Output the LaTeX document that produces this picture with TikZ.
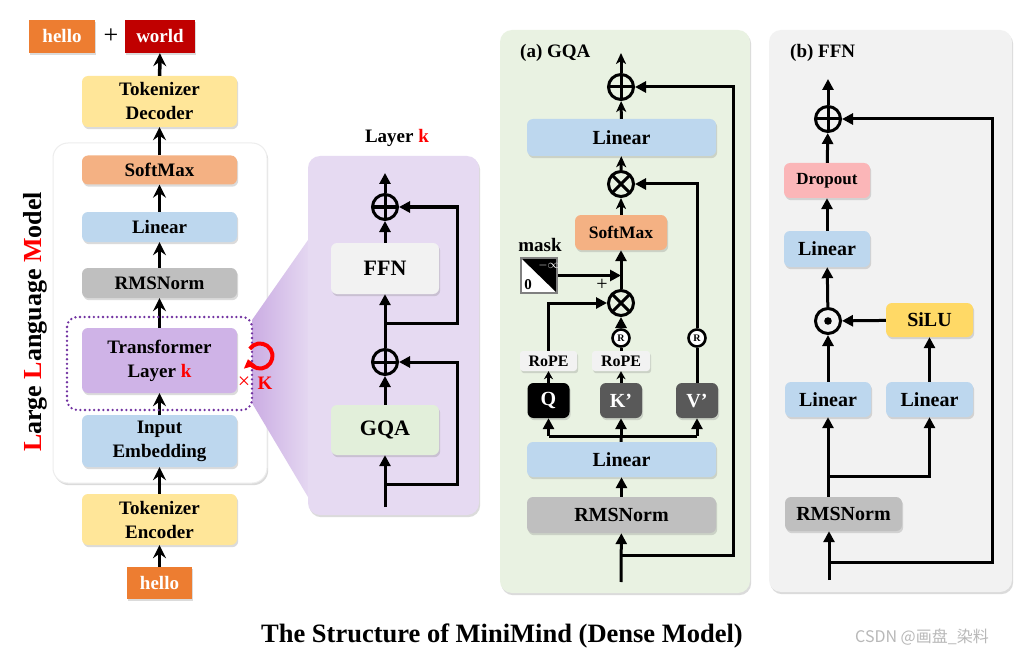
\documentclass[tikz,border=0pt]{standalone}
\usepackage{fontspec}
\setmainfont{Liberation Serif}
\newfontfamily\cjkfont{Noto Sans CJK SC}
\usetikzlibrary{arrows.meta,shadows,calc}
\definecolor{corange}{HTML}{ED7D31}
\definecolor{cworld}{HTML}{C00000}
\definecolor{cyel}{HTML}{FFE699}
\definecolor{csoft}{HTML}{F4B183}
\definecolor{cblue}{HTML}{BDD7EE}
\definecolor{cgrey}{HTML}{BFBFBF}
\definecolor{ctl}{HTML}{CFB3E7}
\definecolor{cdot}{HTML}{7030A0}
\definecolor{clav}{HTML}{E6DAF2}
\definecolor{cffn}{HTML}{F2F2F2}
\definecolor{cgqa}{HTML}{E2EFDA}
\definecolor{cgp}{HTML}{E9F2E2}
\definecolor{cfp}{HTML}{F2F2F2}
\definecolor{cdrop}{HTML}{FBB6B8}
\definecolor{csilu}{HTML}{FFD966}
\definecolor{cdk}{HTML}{595959}
\definecolor{ctrapL}{HTML}{CBADE3}
\definecolor{ctrapR}{HTML}{E4D7F1}
\tikzset{
 fs/.style={font=\fontsize{#1}{24}\selectfont\bfseries},
 sh/.style={drop shadow={shadow xshift=1.2pt,shadow yshift=-2.2pt,opacity=0.28}},
 blk/.style={rounded corners=6pt, inner sep=0pt, align=center, sh, text=black},
 tok/.style={inner sep=0pt, sh, text=white, fs=19},
 la/.style={line width=3.5pt, -{Stealth[length=13pt,width=13pt,inset=4.5pt]}},
 pl/.style={line width=3pt},
 pa/.style={pl, -{Triangle[length=11pt,width=11pt]}},
 sa/.style={pl, -{Stealth[length=11pt,width=10pt,inset=3pt]}},
 opl/.style={circle, draw, line width=3pt, minimum size=25pt, inner sep=0pt,
   path picture={\draw[line width=3pt] (path picture bounding box.north) -- (path picture bounding box.south) (path picture bounding box.west) -- (path picture bounding box.east);}},
 otm/.style={circle, draw, line width=3pt, minimum size=25pt, inner sep=0pt,
   path picture={\draw[line width=3pt] (path picture bounding box.north west) -- (path picture bounding box.south east) (path picture bounding box.south west) -- (path picture bounding box.north east);}},
 odt/.style={circle, draw, line width=3pt, minimum size=25pt, inner sep=0pt,
   path picture={\fill (path picture bounding box.center) circle[radius=3.8pt];}},
 rc/.style={circle, draw, line width=2.6pt, fill=white, minimum size=17pt, inner sep=0pt, font=\fontsize{10}{10}\selectfont\bfseries},
}
\begin{document}
\begin{tikzpicture}[x=1pt,y=-1pt]
\useasboundingbox (0,0) rectangle (1018,658);
\fill[white] (0,0) rectangle (1018,658);

% ---------------- left column ----------------
\path[fill=white, draw=black!7, line width=1pt, rounded corners=15pt, sh] (53,143) rectangle (267,483);
\node[rotate=90, fs=26] (llm) at (35,322) {{\color{red}L}arge {\color{red}L}anguage {\color{red}M}odel};

\node[tok, fill=corange, minimum width=66pt, minimum height=33pt] (h1) at (62,36.5) {hello};
\node[font=\fontsize{26}{26}\selectfont] (plus) at (111,36) {+};
\node[tok, fill=cworld, minimum width=70pt, minimum height=33pt] (world) at (160,36.5) {world};

\node[blk, fill=cyel, minimum width=155pt, minimum height=51pt, fs=19] (td) at (159.5,101.5) {Tokenizer\\Decoder};
\node[blk, fill=csoft, minimum width=155pt, minimum height=29pt, fs=19] (sm) at (159.5,170) {SoftMax};
\node[blk, fill=cblue, minimum width=155pt, minimum height=30pt, fs=19] (lin) at (159.5,227) {Linear};
\node[blk, fill=cgrey, minimum width=155pt, minimum height=30pt, fs=19] (rms) at (159.5,283) {RMSNorm};
\node[blk, fill=ctl, minimum width=155pt, minimum height=65pt, fs=19] (tl) at (159.5,360.5) {Transformer\\Layer {\color{red}k}};
\node[blk, fill=cblue, minimum width=155pt, minimum height=52pt, fs=19] (ie) at (159.5,441) {Input\\Embedding};
\node[blk, fill=cyel, minimum width=155pt, minimum height=51pt, fs=19] (te) at (159.5,519.5) {Tokenizer\\Encoder};
\node[tok, fill=corange, minimum width=65pt, minimum height=32pt] (h2) at (159.5,583) {hello};

\draw[la] (h2) -- (te);
\draw[la] (te) -- (ie);
\draw[la] (ie) -- (tl);
\draw[la] (tl) -- (rms);
\draw[la] (rms) -- (lin);
\draw[la] (lin) -- (sm);
\draw[la] (sm) -- (td);
\draw[la] (td) -- (world);

% trapezoid
\shade[left color=ctrapL, right color=ctrapR] (252,320) -- (308,240) -- (308,497) -- (252,403) -- cycle;
\draw[cdot, line width=2.6pt, dash pattern=on 0pt off 4.6pt, line cap=round, rounded corners=10pt] (67,317) rectangle (252,410);

\draw[red, line width=4pt, -{Triangle[length=8pt,width=12pt]}] (260,356) ++(-145:12.5) arc[start angle=-145, end angle=165, radius=12.5];
\node[text=red, font=\fontsize{22}{22}\selectfont] (xk1) at (244,383) {×};
\node[text=red, fs=19] (xk2) at (265,383) {K};

% ---------------- layer k panel ----------------
\path[fill=clav, rounded corners=12pt, sh] (308,156) rectangle (479,515);
\node[fs=19] (lt) at (397,138) {Layer {\color{red}k}};
\node[blk, fill=cffn, minimum width=108pt, minimum height=51pt, fs=22] (ffn) at (385,268.5) {FFN};
\node[blk, fill=cgqa, minimum width=108pt, minimum height=50pt, fs=22] (gqa) at (385,430) {GQA};
\node[opl] (p1) at (385,207) {};
\node[opl] (p2) at (385,362) {};
\coordinate (lin0) at (385,507);
\coordinate (lout) at (385,173);
\coordinate (r1) at (385,484);
\coordinate (r2) at (385,323);
\coordinate (xr) at (457,0);
\draw[pa] (lin0) -- (gqa);
\draw[pa] (gqa) -- (p2);
\draw[pa] (p2) -- (ffn);
\draw[pa] (ffn) -- (p1);
\draw[pa] (p1) -- (lout);
\draw[pa] (r1) -- (r1 -| xr) |- (p2);
\draw[pa] (r2) -- (r2 -| xr) |- (p1);

% ---------------- (a) GQA panel ----------------
\path[fill=cgp, rounded corners=12pt, sh] (500,30) rectangle (750,593);
\node[fs=19, anchor=west, inner sep=0pt] (ta) at (520,53) {(a) GQA};
\node[opl] (pa1) at (621,87) {};
\coordinate (topa) at (621,53);
\node[blk, fill=cblue, minimum width=189pt, minimum height=37pt, fs=20] (lina) at (621.5,137.5) {Linear};
\node[otm] (xa1) at (621,184) {};
\node[blk, fill=csoft, minimum width=92pt, minimum height=35pt, fs=17.5] (sma) at (621,232.5) {SoftMax};
\node[fs=19] (mask) at (540,245) {mask};
\node[draw=gray, line width=1.8pt, fill=white, minimum width=36pt, minimum height=35pt, inner sep=0pt,
  path picture={\fill[black] (path picture bounding box.north west) -- (path picture bounding box.north east) -- (path picture bounding box.south east) -- cycle;}] (mb) at (539,275.5) {};
\node[text=white, font=\fontsize{12}{12}\selectfont, inner sep=0pt] (minf) at (549,265) {$-\infty$};
\node[fs=15, inner sep=0pt] (zero) at (528,285) {0};
\node[font=\fontsize{20}{20}\selectfont] (pl2) at (602,285) {+};
\node[otm] (xa2) at (621,303) {};
\node[rc] (rck) at (621,338) {R};
\node[rc] (rcv) at (697,338) {R};
\node[blk, fill=cffn, rounded corners=3pt, minimum width=57pt, minimum height=20pt, fs=16] (rq) at (548.5,361) {RoPE};
\node[blk, fill=cffn, rounded corners=3pt, minimum width=58pt, minimum height=20pt, fs=16] (rk) at (621,361) {RoPE};
\node[blk, fill=black, text=white, minimum width=42pt, minimum height=35pt, fs=20] (q) at (548.5,400.5) {Q};
\node[blk, fill=cdk, text=white, minimum width=42pt, minimum height=35pt, fs=20] (kk) at (621,400.5) {K'};
\node[blk, fill=cdk, text=white, minimum width=42pt, minimum height=35pt, fs=20] (vv) at (697,400.5) {V'};
\node[blk, fill=cblue, minimum width=189pt, minimum height=35pt, fs=20] (linb) at (621.5,459.5) {Linear};
\node[blk, fill=cgrey, minimum width=189pt, minimum height=36pt, fs=20] (rmsa) at (621.5,515) {RMSNorm};
\coordinate (ba) at (621,436);
\coordinate (ina) at (621,582);
\coordinate (bra) at (621,555);
\coordinate (xra) at (733,0);

\draw[sa] (lina) -- (pa1);
\draw[sa] (pa1) -- (topa);
\draw[sa] (sma) -- (xa1);
\draw[sa] (xa1) -- (lina);
\draw[pa] (xa2) -- (sma);
\draw[pa] (mb) -- (mb -| xa2);
\draw[pa] (rq) |- (xa2);
\draw[pl] (rk) -- (rck);
\draw[pa] (rck) -- (xa2);
\draw[pl] (vv) -- (rcv);
\draw[pa] (rcv) |- (xa1);
\draw[pl, -{Stealth[length=8pt,width=9pt,inset=2.5pt]}] (q) -- (rq);
\draw[pl, -{Stealth[length=8pt,width=9pt,inset=2.5pt]}] (kk) -- (rk);
\draw[pl] (linb) -- (ba);
\draw[pl] (ba -| q) -- (ba -| vv);
\draw[pa] (ba -| q) -- (q);
\draw[pa] (ba) -- (kk);
\draw[pa] (ba -| vv) -- (vv);
\draw[pa] (rmsa) -- (linb);
\draw[pa] (ina) -- (rmsa);
\draw[pa] (bra) -- (bra -| xra) |- (pa1);

% ---------------- (b) FFN panel ----------------
\path[fill=cfp, rounded corners=12pt, sh] (769,30) rectangle (1012,592);
\node[fs=19, anchor=west, inner sep=0pt] (tb) at (790,53) {(b) FFN};
\node[opl] (pb1) at (828,119) {};
\coordinate (topb) at (828,79);
\node[blk, fill=cdrop, minimum width=86pt, minimum height=35pt, fs=17] (drop) at (827,180.5) {Dropout};
\node[blk, fill=cblue, minimum width=86pt, minimum height=36pt, fs=20] (linc) at (827,249) {Linear};
\node[odt] (dt) at (828,321) {};
\node[blk, fill=csilu, minimum width=87pt, minimum height=34pt, fs=20] (silu) at (929.5,320) {SiLU};
\node[blk, fill=cblue, minimum width=86pt, minimum height=35pt, fs=20] (linl) at (828,399.5) {Linear};
\node[blk, fill=cblue, minimum width=87pt, minimum height=35pt, fs=20] (linr) at (929.5,399.5) {Linear};
\node[blk, fill=cgrey, minimum width=117pt, minimum height=34pt, fs=20] (rmsb) at (843.5,514) {RMSNorm};
\coordinate (bb) at (828,476);
\coordinate (inb) at (829,580);
\coordinate (brb) at (829,562);
\coordinate (xrb) at (992,0);

\draw[pa] (pb1) -- (topb);
\draw[pa] (drop) -- (pb1);
\draw[pa] (linc) -- (drop);
\draw[pa] (dt) -- (linc);
\draw[pa] (silu) -- (dt);
\draw[pa] (linr) -- (silu);
\draw[pa] (linl) -- (dt);
\draw[pa] (rmsb.north -| linl) -- (linl);
\draw[pa] (bb) -| (linr);
\draw[pa] (inb) -- (inb |- rmsb.south);
\draw[pa] (brb) -- (brb -| xrb) |- (pb1);

% ---------------- title ----------------
\node[fs=26.5] (title) at (502,636) {The Structure of MiniMind (Dense Model)};
\node[text=black!28, font=\fontsize{16}{16}\selectfont\cjkfont] (wm) at (922,637) {CSDN @画盘\_染料};
\end{tikzpicture}
\end{document}
